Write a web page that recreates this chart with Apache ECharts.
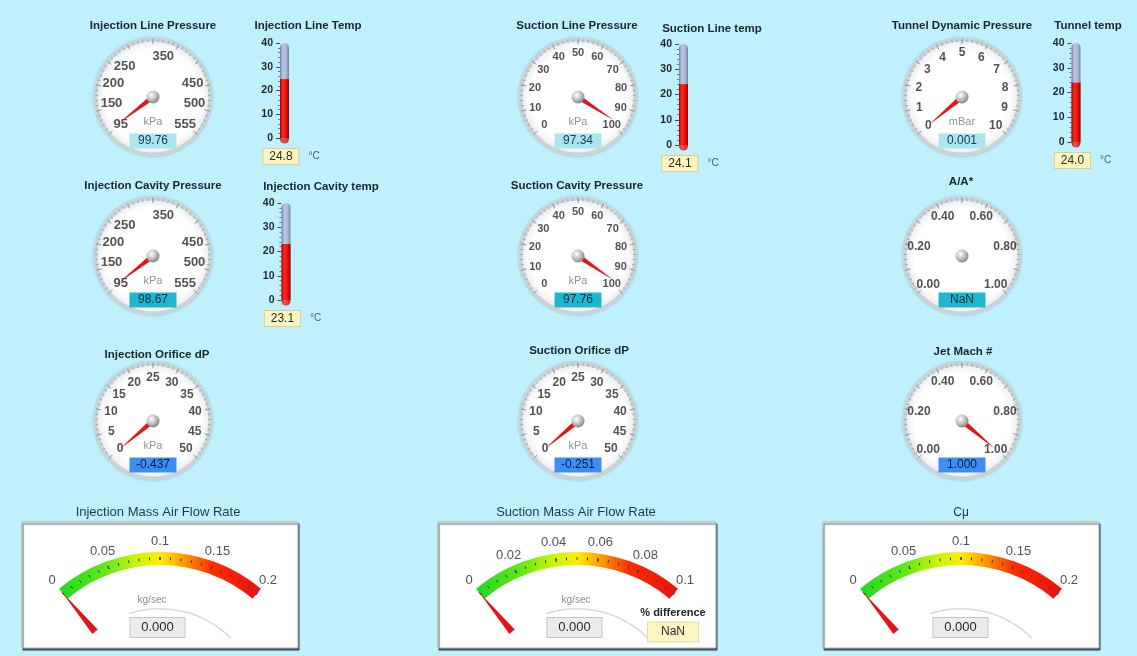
<!DOCTYPE html>
<html><head><meta charset="utf-8">
<script src="https://cdn.jsdelivr.net/npm/echarts@6/dist/echarts.min.js"></script>
<style>html,body{margin:0;padding:0;background:#c0f0fc;}#c{width:1137px;height:656px;}</style>
</head><body><div id="c"></div>
<script>
// ---------------- DATA ----------------
const dialNames = ['Injection Line Pressure','Suction Line Pressure','Tunnel Dynamic Pressure',
  'Injection Cavity Pressure','Suction Cavity Pressure','A/A*',
  'Injection Orifice dP','Suction Orifice dP','Jet Mach #'];
const dialValues = [99.76, 97.34, 0.001, 98.67, 97.76, NaN, -0.437, -0.251, 1.000];
const dialUnits = ['kPa','kPa','mBar','kPa','kPa','','kPa','kPa',''];
const dialMin = [95, 0, 0, 95, 0, 0, 0, 0, 0];
const dialMax = [555, 100, 10, 555, 100, 1, 50, 50, 1];
const pressureTickLabels = [95, 150, 200, 250, 350, 450, 500, 555];
const percentTickLabels = [0, 10, 20, 30, 40, 50, 60, 70, 80, 90, 100];
const mbarTickLabels = [0, 1, 2, 3, 4, 5, 6, 7, 8, 9, 10];
const ratioTickLabels = [0, 0.2, 0.4, 0.6, 0.8, 1.0];
const orificeTickLabels = [0, 5, 10, 15, 20, 25, 30, 35, 40, 45, 50];
const dialTickLabels = [pressureTickLabels, percentTickLabels, mbarTickLabels,
  pressureTickLabels, percentTickLabels, ratioTickLabels,
  orificeTickLabels, orificeTickLabels, ratioTickLabels];
const dialLabelDecimals = [0, 0, 0, 0, 0, 2, 0, 0, 2];
const dialValueDecimals = [2, 2, 3, 2, 2, 0, 3, 3, 3];

const thermoNames = ['Injection Line Temp','Suction Line temp','Tunnel temp','Injection Cavity temp'];
const thermoValues = [24.8, 24.1, 24.0, 23.1];
const thermoMin = 0, thermoMax = 40, thermoStep = 10;

const flowNames = ['Injection Mass Air Flow Rate','Suction Mass Air Flow Rate','Cμ'];
const flowValues = [0, 0, 0];
const flowMax = [0.2, 0.1, 0.2];
const flowTickLabels = [[0, 0.05, 0.1, 0.15, 0.2], [0, 0.02, 0.04, 0.06, 0.08, 0.1], [0, 0.05, 0.1, 0.15, 0.2]];
const flowUnits = ['kg/sec', 'kg/sec', ''];
const pctDifferenceLabel = '% difference';
const pctDifference = NaN;

// ---------------- LAYOUT / STYLE ----------------
const FONT = '"Liberation Sans", Arial, sans-serif';
const DIAL_START = 220, DIAL_END = -40, DIAL_SPAN = 260;
const dialCenters = [[153,97],[578,97],[962,97],[153,256],[578,256],[962,256],[153,421],[578,421],[962,421]];
const dialTitlePos = [[153,26],[577,26],[962,26],[153,186],[577,186],[961,182],[157,355],[579,351],[963,352]];
const dialLabelSize = [13, 11, 12, 13, 11, 12, 12, 12, 12];
const dialLabelR = [42, 44, 44, 42, 44, 44, 43, 43, 44];
const detailStyles = [
  {bg:'#abe5f1', fg:'#0b4258'},
  {bg:'#1db7cf', fg:'#04303c'},
  {bg:'#3d8ef2', fg:'#041a3e'}
];
const thermoLayout = [
  {x:284.5, top:43, h:95, title:[308,26]},
  {x:683.5, top:44, h:101, title:[712,29]},
  {x:1076, top:43, h:99, title:[1088,26]},
  {x:286, top:203, h:97, title:[321,187]}
];
const FLOW_START = 130, FLOW_END = 50, FLOW_SPAN = 80;
const flowCenters = [[160,709],[577,709],[961,709]];
const flowPanels = [[22,522,276,126],[438,522,278,126],[823,522,276,126]];
const flowTitlePos = [[158,512],[576,512],[961,513]];
const flowUnitOffset = [[-8,-109],[-1,-109],[0,-109]];
const flowMinor = [5, 4, 5];

const series = [], graphics = [], grids = [], xAxes = [], yAxes = [];
const polars = [], angleAxes = [], radiusAxes = [];
const hidden = {
  splitLine:{show:false, length:0, distance:0}, axisTick:{show:false}, axisLabel:{show:false},
  pointer:{show:false}, anchor:{show:false}, title:{show:false}, detail:{show:false}, progress:{show:false}
};

// polar frame matching a gauge arc, used to place tick labels through the library's angle scale
function addLabelPolar(center, radius, min, max, start, span) {
  const k = polars.length;
  polars.push({center:center, radius:radius});
  angleAxes.push({polarIndex:k, type:'value', min:min, max:min + (max - min) * 360 / span, startAngle:start, clockwise:true, show:false,
    axisLine:{show:false}, axisTick:{show:false}, axisLabel:{show:false}, splitLine:{show:false}});
  radiusAxes.push({polarIndex:k, type:'value', min:0, max:radius, show:false,
    axisLine:{show:false}, axisTick:{show:false}, axisLabel:{show:false}, splitLine:{show:false}});
  return k;
}

// ---------- Round dials ----------
dialNames.forEach((name, i) => {
  const [cx, cy] = dialCenters[i];
  const R = 59;
  const min = dialMin[i], max = dialMax[i];
  const labels = dialTickLabels[i];
  const v = dialValues[i];
  const row = Math.floor(i / 3);
  // face
  series.push(Object.assign({type:'gauge', silent:true, center:[cx,cy], radius:R, startAngle:90, endAngle:-270, z:1,
    axisLine:{lineStyle:{width:R, color:[[1,{type:'radial', x:0.5, y:0.5, r:0.5, colorStops:[
      {offset:0,color:'#ffffff'},{offset:0.8,color:'#ffffff'},{offset:0.95,color:'#eceeef'},{offset:1,color:'#dfe2e4'}]}]],
      shadowBlur:3, shadowColor:'rgba(0,60,80,0.35)'}},
    data:[{value:0}]}, hidden));
  // rim
  series.push(Object.assign({type:'gauge', silent:true, center:[cx,cy], radius:R, startAngle:90, endAngle:-270, z:2,
    axisLine:{lineStyle:{width:3.5, color:[[1,'#cdd2d5']]}}, data:[{value:0}]}, hidden));
  // ticks
  series.push(Object.assign({}, hidden, {type:'gauge', silent:true, center:[cx,cy], radius:R-1, startAngle:DIAL_START, endAngle:DIAL_END, z:3,
    min, max, splitNumber:10,
    axisLine:{show:false, lineStyle:{width:0}},
    splitLine:{show:true, length:5, distance:0, lineStyle:{color:'#8d9295', width:1}},
    axisTick:{show:true, splitNumber:5, length:3, distance:0, lineStyle:{color:'#a3a8ab', width:1}},
    data:[{value:0}]}));
  // tick labels (polar scatter sharing the dial's angle scale)
  const k = addLabelPolar([cx,cy], R, min, max, DIAL_START, DIAL_SPAN);
  series.push({type:'scatter', coordinateSystem:'polar', polarIndex:k, silent:true, z:3,
    symbolSize:1, itemStyle:{color:'rgba(0,0,0,0)'},
    label:{show:true, position:'inside', fontSize:dialLabelSize[i], fontWeight:'bold', fontFamily:FONT, color:'#262626',
      formatter:(p) => Number(p.value[1]).toFixed(dialLabelDecimals[i])},
    data: labels.map(l => [dialLabelR[i], l])});
  // main: pointer, unit, value
  series.push(Object.assign({}, hidden, {type:'gauge', silent:true, center:[cx,cy], radius:R, startAngle:DIAL_START, endAngle:DIAL_END, z:4,
    min, max,
    axisLine:{show:false, lineStyle:{width:0}},
    pointer:{show:!isNaN(v), icon:'path://M2.5,0 L5,100 L0,100 Z', length:'71%', width:5,
      itemStyle:{color:'#e3141c', shadowBlur:1, shadowColor:'rgba(120,0,0,0.5)'}},
    anchor:{show:true, showAbove:true, size:13, itemStyle:{borderWidth:0,
      color:{type:'radial', x:0.38, y:0.35, r:0.7, colorStops:[{offset:0,color:'#ffffff'},{offset:0.5,color:'#c4c4c4'},{offset:1,color:'#7e7e7e'}]}}},
    title:{show:true, offsetCenter:[0,25], fontSize:11, color:'#8a9396', fontFamily:FONT},
    detail:{show:true, offsetCenter:[0,44], width:47, height:15, lineHeight:15, padding:0,
      backgroundColor:detailStyles[row].bg, color:detailStyles[row].fg, fontSize:12, fontWeight:'normal', fontFamily:FONT,
      formatter: () => isNaN(v) ? 'NaN' : v.toFixed(dialValueDecimals[i])},
    data:[{value: isNaN(v) ? min : v, name: dialUnits[i]}]
  }));
  graphics.push({type:'text', x:dialTitlePos[i][0], y:dialTitlePos[i][1], z:10,
    style:{text:name, align:'center', verticalAlign:'middle', fill:'#18252b', font:'bold 11.5px ' + FONT}});
});

// ---------- Thermometers ----------
const tubeGrad = {type:'linear', x:0, y:0, x2:1, y2:0, colorStops:[
  {offset:0,color:'#6f80a8'},{offset:0.3,color:'#bcc5e0'},{offset:0.7,color:'#adb7d4'},{offset:1,color:'#7282a8'}]};
const redGrad = {type:'linear', x:0, y:0, x2:1, y2:0, colorStops:[
  {offset:0,color:'#a20000'},{offset:0.3,color:'#ff2a1e'},{offset:0.7,color:'#e3100c'},{offset:1,color:'#980000'}]};
thermoNames.forEach((name, i) => {
  const L = thermoLayout[i];
  grids.push({left:L.x - 4.5, top:L.top, width:9, height:L.h, containLabel:false});
  xAxes.push({type:'category', gridIndex:i, data:[name], show:false});
  yAxes.push({type:'value', gridIndex:i, min:thermoMin, max:thermoMax, interval:thermoStep,
    axisLine:{show:false}, splitLine:{show:false},
    axisTick:{show:true, length:4, lineStyle:{color:'#3c4a55'}},
    minorTick:{show:true, splitNumber:5, length:2, lineStyle:{color:'#6a7b88'}},
    axisLabel:{margin:7, fontSize:10.5, fontWeight:'bold', color:'#1f262a', fontFamily:FONT}});
  series.push({type:'bar', xAxisIndex:i, yAxisIndex:i, data:[thermoValues[i]], barWidth:9, silent:true,
    showBackground:true, backgroundStyle:{color:tubeGrad, borderRadius:[4.5,4.5,0,0]},
    itemStyle:{color:redGrad},
    label:{show:true, position:'bottom', distance:11, offset:[7,0],
      formatter:(p) => '{v|' + p.value.toFixed(1) + '}{u|°C}',
      rich:{
        v:{backgroundColor:'#fcf5c2', borderColor:'#d8cf95', borderWidth:1, width:35, height:15, lineHeight:15, align:'center',
           fontSize:12, color:'#2b2b2b', fontFamily:FONT},
        u:{fontSize:10, color:'#4e5a60', padding:[0,0,0,10], fontFamily:FONT}
      }}
  });
  series.push({type:'scatter', xAxisIndex:i, yAxisIndex:i, data:[[name, thermoMin]], clip:false, silent:true,
    symbol:'circle', symbolSize:9, symbolOffset:[0,1], itemStyle:{color:redGrad}});
  graphics.push({type:'text', x:L.title[0], y:L.title[1], z:10,
    style:{text:name, align:'center', verticalAlign:'middle', fill:'#18252b', font:'bold 11.5px ' + FONT}});
});

// ---------- Flow panels ----------
const arcGrad = {type:'linear', x:0, y:0, x2:1, y2:0, colorStops:[
  {offset:0,color:'#1fd81f'},{offset:0.22,color:'#5fe81a'},{offset:0.38,color:'#c8f50a'},{offset:0.5,color:'#ffee00'},
  {offset:0.62,color:'#ff9a00'},{offset:0.76,color:'#ff2c00'},{offset:1,color:'#e81010'}]};
flowNames.forEach((name, i) => {
  const [cx, cy] = flowCenters[i];
  const p = flowPanels[i];
  const labels = flowTickLabels[i];
  graphics.push({type:'rect', z:0, shape:{x:p[0], y:p[1], width:p[2], height:p[3]},
    style:{fill:'#ffffff', stroke:'#a8adb0', lineWidth:1, shadowBlur:1, shadowOffsetX:1, shadowOffsetY:2, shadowColor:'rgba(50,60,65,0.85)'}});
  graphics.push({type:'text', x:flowTitlePos[i][0], y:flowTitlePos[i][1], z:10,
    style:{text:name, align:'center', verticalAlign:'middle', fill:'#1d3744', font:(i===2?'12px ':'13px ') + FONT}});
  // faint inner arc
  series.push(Object.assign({type:'gauge', silent:true, center:[cx,cy], radius:101, startAngle:108, endAngle:45, z:3,
    axisLine:{lineStyle:{width:1.5, color:[[1,'#d7d9da']]}}, data:[{value:0}]}, hidden));
  // tick labels
  const k = addLabelPolar([cx,cy], 190, 0, flowMax[i], FLOW_START, FLOW_SPAN);
  series.push({type:'scatter', coordinateSystem:'polar', polarIndex:k, silent:true, z:5,
    symbolSize:1, itemStyle:{color:'rgba(0,0,0,0)'},
    label:{show:true, position:'inside', fontSize:13, fontFamily:FONT, color:'#262626',
      formatter:(q) => String(q.value[1])},
    data: labels.map(l => [168, l])});
  series.push(Object.assign({}, hidden, {type:'gauge', silent:true, center:[cx,cy], radius:157, startAngle:FLOW_START, endAngle:FLOW_END, z:4,
    min:0, max:flowMax[i], splitNumber:labels.length - 1,
    axisLine:{show:true, lineStyle:{width:13, color:[[1, arcGrad]]}},
    splitLine:{show:true, length:3, distance:-8, lineStyle:{color:'#3a3a3a', width:1}},
    axisTick:{show:true, splitNumber:flowMinor[i], length:3, distance:-8, lineStyle:{color:'#3a3a3a', width:1}},
    pointer:{show:true, icon:'path://M3.5,0 L7,34 L0,34 Z M0,100 L7,100', length:153, width:7, itemStyle:{color:'#e3141c'}},
    title:{show:true, offsetCenter:flowUnitOffset[i], fontSize:10, color:'#8b8f92', fontFamily:FONT},
    detail:{show:true, offsetCenter:[i===2?-0.5:-2.5, -81.5], width:54, height:19, lineHeight:19, padding:0,
      backgroundColor:'#ececec', borderColor:'#c4c4c4', borderWidth:1, color:'#262626', fontSize:13, fontWeight:'normal', fontFamily:FONT,
      formatter:(val) => Number(val).toFixed(3)},
    data:[{value:flowValues[i], name:flowUnits[i]}]
  }));
});
// % difference readout (Suction panel)
series.push(Object.assign({}, hidden, {type:'gauge', silent:true, center:flowCenters[1], radius:157, startAngle:FLOW_START, endAngle:FLOW_END, z:5,
  axisLine:{show:false, lineStyle:{width:0}},
  title:{show:true, offsetCenter:[96,-96], fontSize:11, fontWeight:'bold', color:'#222', fontFamily:FONT},
  detail:{show:true, offsetCenter:[96,-77], width:50, height:19, lineHeight:19, padding:0,
    backgroundColor:'#fcf5c2', borderColor:'#e2dba8', borderWidth:1, color:'#2b2b2b', fontSize:12, fontWeight:'normal', fontFamily:FONT,
    formatter:() => isNaN(pctDifference) ? 'NaN' : pctDifference.toFixed(2)},
  data:[{value:0, name:pctDifferenceLabel}]}));

const chart = echarts.init(document.getElementById('c'));
chart.setOption({
  backgroundColor:'#c0f0fc',
  animation:false,
  textStyle:{fontFamily:FONT},
  grid:grids, xAxis:xAxes, yAxis:yAxes,
  polar:polars, angleAxis:angleAxes, radiusAxis:radiusAxes,
  graphic:{elements:graphics},
  series:series
});
</script></body></html>
